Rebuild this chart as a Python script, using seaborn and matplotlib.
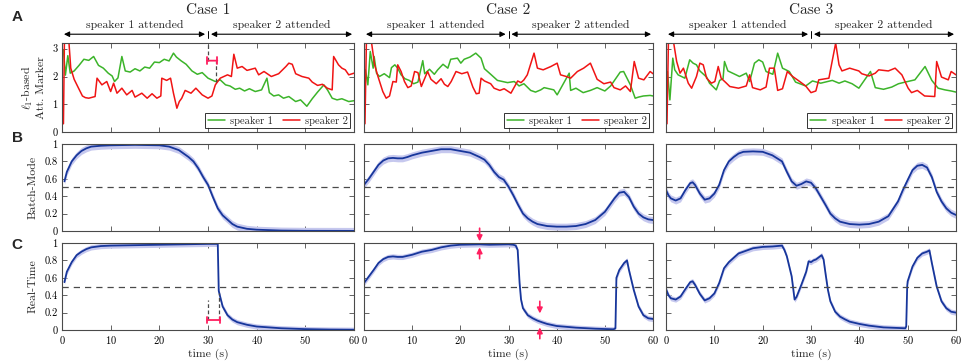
import matplotlib
matplotlib.use("Agg")
import matplotlib.pyplot as plt
import matplotlib.transforms as mtransforms
from matplotlib.ticker import FuncFormatter
import numpy as np
import seaborn as sns

# ---------------- data ----------------
# panel A: l1-based attention markers, (time s, value) pairs
c1_green = [(0.3, 2.95), (0.7, 2.05), (1.2, 2.75), (1.7, 2.12), (2.5, 2.2), (3.5, 2.4), (4.5, 2.62),
            (5.5, 2.58), (6.5, 2.72), (7.5, 2.4), (8.5, 2.3), (9.5, 2.12), (10.3, 2.02), (10.8, 1.82),
            (11.5, 1.95), (12.3, 2.72), (13, 2.2), (14, 2.16), (15, 2.28), (16, 2.2), (17, 2.34),
            (18, 2.3), (19, 2.52), (20, 2.5), (21, 2.62), (22, 2.56), (22.9, 2.84), (23.5, 2.7),
            (24.5, 2.56), (25.5, 2.44), (26.7, 2.2), (27.8, 2.08), (28.8, 2.14), (30, 1.94),
            (31.5, 1.82), (32.5, 1.88), (33.6, 1.7), (34.5, 1.66), (35.6, 1.54), (36.5, 1.58),
            (37.5, 1.48), (38.5, 1.56), (39.7, 1.46), (41, 1.52), (42.1, 1.94), (42.6, 1.42),
            (43.5, 1.3), (44.5, 1.34), (45.5, 1.22), (46.6, 1.28), (48, 1.1), (49, 1.16), (50.3, 0.93),
            (51.4, 1.2), (52.5, 1.44), (53.8, 1.7), (54.6, 1.5), (55.5, 1.22), (56.5, 1.16),
            (57.5, 1.2), (58.9, 1.1), (60, 1.13)]
c1_red = [(0.3, 0.3), (0.5, 3.3), (1.4, 3.3), (1.8, 2.3), (2.5, 1.9), (3.4, 1.58), (4.2, 1.3), (4.8, 1.24),
          (5.5, 1.22), (6.8, 1.28), (7.2, 1.94), (8.2, 1.7), (9.2, 1.82), (10, 1.46), (10.6, 1.76),
          (11.3, 1.4), (12.3, 1.58), (13.3, 1.34), (14.4, 1.5), (15, 1.26), (16.4, 1.4), (17.5, 1.22),
          (18.5, 1.38), (19.5, 1.22), (20.3, 1.3), (20.5, 1.94), (21.5, 1.86), (22.3, 1.94), (22.9, 1.4),
          (23.6, 0.86), (24.1, 1.1), (24.6, 1.22), (25.3, 1.5), (26.5, 1.4), (27.5, 1.58), (28.8, 1.34),
          (30, 1.22), (30.8, 1.3), (31.5, 1.7), (32.5, 1.94), (34, 2.06), (34.8, 2.0), (35.3, 2.8),
          (36, 2.3), (37, 2.36), (38, 2.22), (39.7, 2.3), (40.4, 2.06), (41.5, 2.18), (43, 2.0),
          (44.5, 2.1), (46, 2.36), (46.6, 2.48), (47.3, 2.44), (48, 2.1), (49.3, 2.0), (50.7, 1.94),
          (51.4, 1.8), (52.5, 1.68), (53.5, 1.72), (54.5, 1.58), (55.5, 1.52), (55.8, 2.72),
          (56.8, 2.42), (57.5, 2.3), (58.2, 2.24), (58.9, 2.06), (60, 2.12)]

c2_green = [(0.3, 2.24), (0.8, 1.7), (1.3, 2.9), (1.9, 2.3), (2.1, 2.72), (2.6, 2.12), (3.2, 2.0),
            (4.2, 2.1), (5.3, 1.96), (5.7, 2.32), (6.4, 2.42), (7, 2.3), (7.7, 2.06), (8.5, 1.92),
            (9.4, 1.86), (10.3, 1.74), (11.2, 1.8), (12.2, 2.57), (12.6, 2.1), (13.6, 2.26),
            (14.6, 2.08), (15.3, 2.24), (16.4, 2.44), (17.4, 2.3), (18, 2.62), (19.4, 2.66),
            (20.1, 2.48), (20.8, 2.62), (22, 2.7), (23.2, 2.84), (24.3, 2.66), (25, 2.28),
            (26.3, 2.08), (27.7, 1.86), (29.8, 1.78), (31.2, 1.82), (32.2, 1.66), (33.2, 1.74),
            (34.6, 1.5), (35.6, 1.44), (36.7, 1.52), (37.4, 1.6), (39.4, 1.52), (40.1, 1.34),
            (42.6, 2.12), (42.9, 1.5), (44, 1.58), (45.5, 1.42), (47, 1.5), (48.4, 1.6),
            (50, 1.48), (51.2, 1.66), (53.2, 2.16), (53.9, 2.18), (55.3, 1.7), (56.3, 1.22),
            (57, 1.26), (58, 1.3), (59.4, 1.32), (60, 1.3)]
c2_red = [(0.2, 0.3), (0.5, 3.3), (1.5, 3.3), (2.2, 2.42), (2.9, 2.0), (3.9, 1.46), (4.6, 1.22),
          (5.3, 1.3), (6, 1.82), (6.7, 1.8), (7, 2.42), (7.7, 2.18), (8.4, 1.82), (9.1, 1.6),
          (9.8, 1.66), (10.5, 2.18), (11.2, 2.14), (11.9, 1.64), (13.2, 2.18), (13.9, 1.9),
          (15, 1.74), (16, 1.92), (16.7, 1.72), (17.4, 1.64), (18.1, 1.82), (19.1, 2.18),
          (20.3, 2.1), (21.5, 2.16), (22.6, 1.62), (23.3, 1.38), (23.9, 1.4), (24.3, 1.94),
          (25, 1.84), (26.3, 1.74), (27, 1.58), (28.2, 1.5), (29.1, 1.56), (30.5, 1.4),
          (31.9, 1.84), (32.6, 1.78), (33.2, 1.88), (33.9, 2.06), (35.3, 2.84), (36, 2.3),
          (37.2, 2.24), (38.8, 2.36), (40.1, 2.48), (40.8, 2.06), (42, 2.0), (42.9, 1.94),
          (44.3, 2.18), (45.6, 2.3), (47, 2.48), (48.4, 1.9), (49.8, 1.74), (51.2, 1.8),
          (51.9, 1.6), (53.2, 1.52), (54.3, 1.66), (55.3, 1.46), (56.1, 2.54), (57, 1.94),
          (58.1, 1.88), (59.4, 2.18), (60, 2.1)]

c3_green = [(0.3, 2.18), (0.8, 1.16), (1.4, 2.66), (1.8, 2.24), (2.5, 2.06), (3.9, 1.94), (4.9, 2.6),
            (5.6, 2.48), (6.3, 2.42), (7, 2.2), (8.4, 1.98), (9, 1.76), (10.4, 1.52), (11.1, 1.86),
            (11.8, 1.92), (12.1, 2.54), (12.8, 2.2), (14.5, 2.06), (15.2, 2.0), (16.6, 2.12),
            (17.3, 1.82), (18.3, 2.48), (19.2, 2.6), (20, 2.52), (20.7, 2.18), (22.1, 2.08),
            (23.1, 2.84), (24.1, 2.3), (25.5, 2.18), (26.8, 1.8), (28.9, 1.66), (30.3, 1.84),
            (32, 1.76), (34.4, 1.86), (35.8, 1.76), (37, 1.84), (38.5, 1.74), (39.9, 1.58),
            (42.3, 2.18), (43.3, 1.6), (45, 1.54), (46.7, 1.62), (48.1, 1.74), (49.5, 1.8),
            (51.5, 1.88), (53.6, 2.36), (55, 1.86), (56.3, 1.58), (57.7, 1.52), (59, 1.48),
            (60, 1.44)]
c3_red = [(0.2, 0.3), (0.5, 3.3), (1.5, 3.3), (2.2, 2.54), (2.9, 2.12), (3.6, 2.3), (4.6, 1.76),
          (5.3, 1.58), (6.3, 2.0), (7, 2.48), (7.7, 2.42), (8.4, 1.94), (9.4, 1.76), (10.1, 1.82),
          (10.8, 2.36), (11.4, 1.94), (12.5, 1.76), (13.2, 1.64), (15, 1.58), (16.6, 1.66),
          (17.3, 2.06), (17.9, 1.6), (19.5, 1.52), (20.7, 1.62), (21.4, 2.3), (22.4, 2.3),
          (23.1, 1.5), (24.1, 1.56), (25.1, 2.18), (26.2, 2.0), (27.5, 1.84), (28.9, 1.66),
          (30, 1.42), (31, 1.48), (31.6, 1.88), (33.7, 1.94), (35.1, 3.2), (35.8, 2.42),
          (36.4, 2.2), (38, 2.3), (39.9, 2.2), (40.5, 2.1), (42, 2.02), (43.3, 2.12), (44, 2.24),
          (46, 2.2), (47.4, 2.3), (48.8, 2.06), (50.1, 1.58), (50.8, 1.42), (52, 1.5),
          (53.5, 1.3), (55.6, 1.28), (56, 2.54), (57, 1.98), (58.4, 1.88), (59, 2.18), (60, 2.06)]

# panel B: batch-mode decoding probability
c1_batch = [(0.5, 0.57), (1, 0.68), (2, 0.8), (3, 0.87), (4, 0.92), (5, 0.95), (6, 0.97), (8, 0.98),
            (10, 0.985), (15, 0.99), (20, 0.985), (22, 0.97), (24, 0.93), (25, 0.89), (26, 0.85),
            (27, 0.8), (28, 0.72), (29, 0.62), (30, 0.53), (31, 0.39), (32, 0.26), (33, 0.18),
            (34, 0.13), (35, 0.08), (36, 0.05), (38, 0.025), (40, 0.015), (45, 0.005), (50, 0.002),
            (60, 0.001)]
c2_batch = [(0, 0.53), (1, 0.6), (2, 0.68), (3, 0.76), (4, 0.81), (5, 0.835), (6, 0.84), (7, 0.835),
            (8, 0.835), (9, 0.85), (10, 0.87), (12, 0.9), (14, 0.92), (16, 0.94), (18, 0.94),
            (20, 0.92), (22, 0.9), (24, 0.85), (25, 0.82), (26, 0.76), (27, 0.68), (28, 0.62),
            (29, 0.59), (30, 0.51), (31, 0.41), (32, 0.3), (33, 0.2), (34, 0.145), (35, 0.107),
            (36, 0.08), (38, 0.057), (40, 0.05), (42, 0.05), (44, 0.057), (46, 0.08), (48, 0.126),
            (50, 0.22), (52, 0.375), (53, 0.44), (54, 0.45), (55, 0.39), (56, 0.28), (57, 0.2),
            (58, 0.157), (59, 0.134), (60, 0.126)]
c3_batch = [(0, 0.47), (0.5, 0.41), (1, 0.375), (2, 0.35), (3, 0.375), (4, 0.47), (5, 0.55),
            (5.5, 0.56), (6, 0.53), (7, 0.43), (8, 0.36), (9, 0.375), (10, 0.43), (11, 0.53),
            (12, 0.7), (13, 0.8), (14, 0.85), (15, 0.89), (16, 0.91), (18, 0.915), (20, 0.91),
            (22, 0.87), (24, 0.8), (25, 0.68), (26, 0.57), (27, 0.52), (28, 0.54), (29, 0.57),
            (30, 0.555), (31, 0.49), (32, 0.395), (33, 0.3), (34, 0.2), (35, 0.145), (36, 0.107),
            (38, 0.08), (40, 0.073), (42, 0.08), (44, 0.107), (46, 0.17), (48, 0.34), (49, 0.47),
            (50, 0.586), (51, 0.7), (52, 0.75), (53, 0.76), (54, 0.73), (55, 0.62), (56, 0.45),
            (57, 0.34), (58, 0.26), (59, 0.21), (60, 0.184)]

# panel C: real-time decoding probability
c1_real = [(0.5, 0.55), (1, 0.67), (2, 0.78), (3, 0.86), (4, 0.9), (5, 0.93), (6, 0.95), (8, 0.965),
           (10, 0.97), (15, 0.975), (20, 0.98), (25, 0.985), (30, 0.99), (32, 0.99), (32.2, 0.45),
           (32.5, 0.38), (33, 0.27), (34, 0.17), (35, 0.12), (36, 0.09), (38, 0.06), (40, 0.04),
           (45, 0.02), (50, 0.01), (55, 0.005), (60, 0.003)]
c2_real = [(0, 0.54), (1, 0.615), (2, 0.69), (3, 0.77), (4, 0.815), (5, 0.84), (6, 0.846), (7, 0.84),
           (8, 0.84), (10, 0.865), (12, 0.9), (14, 0.92), (16, 0.95), (18, 0.97), (20, 0.98),
           (24, 0.985), (26, 0.98), (30, 0.985), (31, 0.98), (31.5, 0.97), (31.9, 0.92),
           (32.3, 0.54), (32.6, 0.35), (33, 0.25), (34, 0.17), (35, 0.135), (36, 0.108),
           (37, 0.088), (38, 0.07), (40, 0.046), (44, 0.027), (48, 0.015), (51.8, 0.008),
           (52.2, 0.02), (52.4, 0.6), (53, 0.69), (54, 0.77), (54.6, 0.8), (55, 0.69), (56, 0.46),
           (57, 0.27), (58, 0.17), (59, 0.135), (60, 0.127)]
c3_real = [(0, 0.47), (0.5, 0.4), (1, 0.365), (2, 0.35), (3, 0.385), (4, 0.47), (5, 0.55), (5.5, 0.56),
           (6, 0.52), (7, 0.415), (8, 0.34), (9, 0.365), (10, 0.42), (11, 0.54), (12, 0.71),
           (13, 0.78), (14, 0.83), (15, 0.88), (16, 0.9), (17, 0.92), (18, 0.94), (20, 0.955),
           (22, 0.96), (24, 0.97), (24.5, 0.92), (25, 0.846), (26, 0.615), (26.6, 0.35),
           (27, 0.38), (28, 0.52), (29, 0.67), (29.5, 0.79), (30, 0.78), (30.5, 0.8), (31, 0.81),
           (32.2, 0.86), (32.6, 0.81), (33, 0.65), (33.5, 0.46), (34, 0.33), (35, 0.21),
           (36, 0.154), (37, 0.123), (38, 0.096), (40, 0.07), (42, 0.05), (45, 0.03), (49.5, 0.02),
           (49.7, 0.04), (49.9, 0.5), (50, 0.56), (51, 0.73), (52, 0.83), (53, 0.88), (54, 0.9),
           (54.5, 0.915), (55, 0.77), (56, 0.5), (57, 0.33), (58, 0.25), (59, 0.21), (60, 0.2)]

cases = ["Case 1", "Case 2", "Case 3"]
markers_a = [(c1_green, c1_red), (c2_green, c2_red), (c3_green, c3_red)]
batch = [c1_batch, c2_batch, c3_batch]
real = [c1_real, c2_real, c3_real]
band_batch = 0.04
band_real = 0.03
switch_t = 30

GREEN = "#3cb42a"
RED = "#f01414"
BLUE = "#17369b"
BAND = "#c6c8ee"
GRAY = "#4a4a4a"
PINK = "#ff1f5f"

# ---------------- style ----------------
sns.set_style("ticks")
plt.rcParams["font.family"] = ["cmr10", "DejaVu Serif"]
plt.rcParams["mathtext.fontset"] = "cm"
plt.rcParams["axes.formatter.use_mathtext"] = True
plt.rcParams["axes.unicode_minus"] = False

fig = plt.figure(figsize=(9.64, 3.64), dpi=100)

lefts = [0.0643, 0.3776, 0.6909]
widths = [0.303, 0.2998, 0.3008]
rows = [(0.637, 0.2445), (0.3654, 0.239), (0.0934, 0.239)]

fmt = FuncFormatter(lambda v, p: f"{v:g}")


def style_axes(ax, show_y, show_x):
    ax.set_xlim(0, 60)
    ax.set_xticks(range(0, 61, 10))
    ax.tick_params(direction="in", top=True, right=True, length=3.5, width=0.6,
                   colors=GRAY, labelsize=7.5, labelcolor="black", pad=3)
    for s in ax.spines.values():
        s.set_color(GRAY)
        s.set_linewidth(0.8)
    if show_y:
        ax.yaxis.set_major_formatter(fmt)
    else:
        ax.set_yticklabels([])
    if not show_x:
        ax.set_xticklabels([])
    ax.set_xlabel("")
    ax.set_ylabel("")


def unzip(pairs):
    return np.array([p[0] for p in pairs]), np.array([p[1] for p in pairs])


def prob_panel(ax, pairs, half):
    t, v = unzip(pairs)
    ax.fill_between(t, v - half, v + half, color=BAND, lw=0)
    sns.lineplot(x=t, y=v, ax=ax, color=BLUE, lw=1.3, errorbar=None, sort=False)
    ax.axhline(0.5, color=GRAY, ls=(0, (5, 4)), lw=0.9)
    ax.set_ylim(0, 1)
    ax.set_yticks(np.arange(0, 1.01, 0.2))


for i in range(3):
    axA = fig.add_axes([lefts[i], rows[0][0], widths[i], rows[0][1]])
    axB = fig.add_axes([lefts[i], rows[1][0], widths[i], rows[1][1]])
    axC = fig.add_axes([lefts[i], rows[2][0], widths[i], rows[2][1]])

    g, r = markers_a[i]
    tg, vg = unzip(g)
    tr, vr = unzip(r)
    sns.lineplot(x=tg, y=vg, ax=axA, color=GREEN, lw=1.1, label="speaker 1", errorbar=None, sort=False)
    sns.lineplot(x=tr, y=vr, ax=axA, color=RED, lw=1.1, label="speaker 2", errorbar=None, sort=False)
    axA.set_ylim(0, 3.2)
    axA.set_yticks([0, 1, 2, 3])
    leg = axA.legend(loc="lower right", ncol=2, fontsize=7.5, frameon=True, fancybox=False,
                     edgecolor="black", borderpad=0.25, handlelength=1.6, columnspacing=1.0,
                     handletextpad=0.5, borderaxespad=0.35)
    leg.get_frame().set_linewidth(0.7)

    prob_panel(axB, batch[i], band_batch)
    prob_panel(axC, real[i], band_real)

    style_axes(axA, i == 0, False)
    style_axes(axB, i == 0, False)
    style_axes(axC, i == 0, True)
    axC.set_xlabel("time (s)", fontsize=8.5, labelpad=2)

    if i == 0:
        axA.set_ylabel("$\\ell_1$-based\nAtt. Marker", fontsize=8.5, linespacing=1.1, labelpad=5)
        axB.set_ylabel("Batch-Mode", fontsize=8.5, labelpad=5)
        axC.set_ylabel("Real-Time", fontsize=8.5, labelpad=5)

    # header: case title and attended-speaker arrows
    blend = mtransforms.blended_transform_factory(axA.transData, fig.transFigure)
    axA.text(30, 0.972, cases[i], transform=blend, ha="center", va="center", fontsize=11)
    y_arr = 0.906
    for a, b, lab in [(0.4, 29.4, "speaker 1 attended"), (30.6, 59.6, "speaker 2 attended")]:
        axA.annotate("", xy=(b, y_arr), xytext=(a, y_arr), xycoords=blend, textcoords=blend,
                     arrowprops=dict(arrowstyle="<|-|>", color="black", lw=0.8,
                                     mutation_scale=8, shrinkA=0, shrinkB=0))
        axA.text((a + b) / 2, y_arr + 0.012, lab, transform=blend, ha="center", va="bottom",
                 fontsize=8.5)
    axA.plot([switch_t, switch_t], [y_arr - 0.01, y_arr + 0.01], transform=blend,
             color="black", lw=0.7, clip_on=False)

    if i == 0:
        # delay markers, case 1
        axA.plot([switch_t, switch_t], [2.57, 3.2], ls=(0, (3, 2)), color=GRAY, lw=0.9)
        axA.plot([31.7, 31.7], [1.8, 2.57], ls=(0, (3, 2)), color=GRAY, lw=0.9)
        axA.annotate("", xy=(31.9, 2.57), xytext=(29.8, 2.57),
                     arrowprops=dict(arrowstyle="|-|,widthA=0.25,widthB=0.25", color=PINK, lw=1.3,
                                     shrinkA=0, shrinkB=0))
        axC.plot([switch_t, switch_t], [0.12, 0.35], ls=(0, (3, 2)), color=GRAY, lw=0.9)
        axC.plot([32.3, 32.3], [0.12, 0.42], ls=(0, (3, 2)), color=GRAY, lw=0.9)
        axC.annotate("", xy=(32.5, 0.115), xytext=(29.8, 0.115),
                     arrowprops=dict(arrowstyle="|-|,widthA=0.25,widthB=0.25", color=PINK, lw=1.3,
                                     shrinkA=0, shrinkB=0))
    if i == 1:
        for tt, y_dn, y_up in [(24, (1.17, 1.02), (0.82, 0.95)), (36.5, (0.33, 0.19), (-0.1, 0.03))]:
            for y0, y1 in [y_dn, y_up]:
                axC.annotate("", xy=(tt, y1), xytext=(tt, y0), annotation_clip=False,
                             arrowprops=dict(arrowstyle="-|>", color=PINK, lw=1.2,
                                             mutation_scale=8, shrinkA=0, shrinkB=0))

# panel letters
for lab, y in [("A", 0.952), ("B", 0.62), ("C", 0.327)]:
    fig.text(0.012, y, lab, fontsize=11, fontweight="bold", family="Liberation Sans",
             ha="left", va="center")

fig.savefig("out.png", dpi=100)
